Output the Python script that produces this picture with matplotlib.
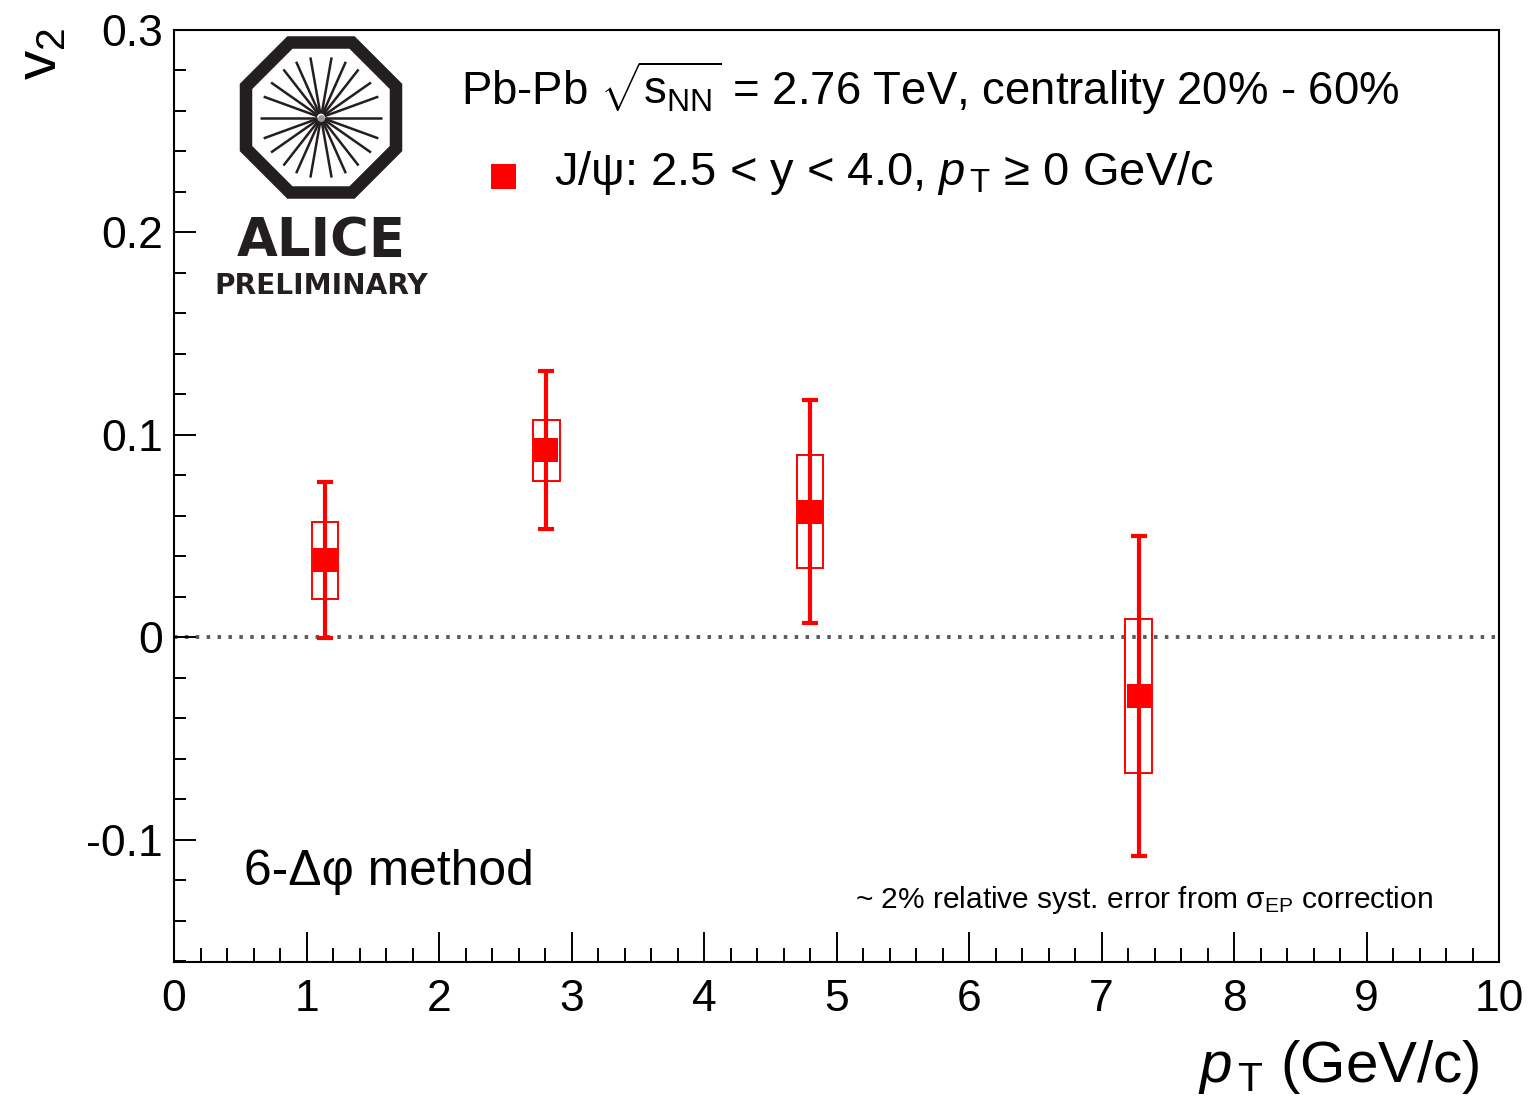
import numpy as np
import matplotlib
matplotlib.use("Agg")
import matplotlib.pyplot as plt
from matplotlib.patches import Rectangle, Polygon
from matplotlib.ticker import MultipleLocator

# ---- data ----
pt = [1.14, 2.81, 4.80, 7.28]
v2 = [0.038, 0.0924, 0.062, -0.0291]
stat_err = [0.0385, 0.039, 0.055, 0.079]
syst_err = [0.019, 0.015, 0.028, 0.038]
syst_halfwidth = 0.1
x_ticks = [0, 1, 2, 3, 4, 5, 6, 7, 8, 9, 10]
x_ticklabels = ["0", "1", "2", "3", "4", "5", "6", "7", "8", "9", "10"]
y_ticks = [-0.1, 0.0, 0.1, 0.2, 0.3]
y_ticklabels = ["-0.1", "0", "0.1", "0.2", "0.3"]

plt.rcParams['font.family'] = ['Liberation Sans', 'DejaVu Sans']
plt.rcParams['mathtext.fontset'] = 'custom'
plt.rcParams['mathtext.rm'] = 'Liberation Sans'
plt.rcParams['mathtext.it'] = 'Liberation Sans:italic'
plt.rcParams['mathtext.bf'] = 'Liberation Sans:bold'

W, H = 1531, 1107
fig = plt.figure(figsize=(W / 100, H / 100), dpi=100)
L, R, T, B = 174, 1499, 30, 962
ax = fig.add_axes([L / W, 1 - B / H, (R - L) / W, (B - T) / H])
ax.set_xlim(0, 10)
ax.set_ylim(-0.1605, 0.3)

red = '#ff0000'
# zero line
ax.axhline(0, color='#5a5a5a', lw=2.8, ls=(0, (0.9, 1.9)), zorder=1)

# systematic boxes
for xi, yi, si in zip(pt, v2, syst_err):
    ax.add_patch(Rectangle((xi - syst_halfwidth, yi - si), 2 * syst_halfwidth, 2 * si,
                           fill=False, edgecolor=red, lw=1.4, zorder=3))

ax.errorbar(pt, v2, yerr=stat_err, fmt='none', ecolor=red,
            elinewidth=3, capsize=5.5, capthick=3, zorder=4)
ax.plot(pt, v2, 's', color=red, ms=17, mew=0, zorder=5)

ax.set_xticks(x_ticks)
ax.set_xticklabels(x_ticklabels)
ax.set_yticks(y_ticks)
ax.set_yticklabels(y_ticklabels)
ax.xaxis.set_minor_locator(MultipleLocator(0.2))
ax.yaxis.set_minor_locator(MultipleLocator(0.02))
ax.tick_params(axis='both', which='both', direction='in', top=False, right=False,
               labelsize=32, width=1.4, colors='black')
ax.tick_params(axis='x', which='major', length=21.5, pad=12)
ax.tick_params(axis='x', which='minor', length=10)
ax.tick_params(axis='y', which='major', length=16, pad=8)
ax.tick_params(axis='y', which='minor', length=8.6)
for s in ax.spines.values():
    s.set_linewidth(1.5)

# ---- overlay in pixel coordinates for annotations/logo ----
ov = fig.add_axes([0, 0, 1, 1], zorder=5)
ov.set_xlim(0, W)
ov.set_ylim(H, 0)
ov.axis('off')
ov.patch.set_alpha(0)

# ALICE logo
cx, cy = 321, 117.5
ap = 75
Rc = ap / np.cos(np.pi / 8)
ang = np.pi / 8 + np.arange(8) * np.pi / 4
ov.add_patch(Polygon(np.c_[cx + Rc * np.cos(ang), cy + Rc * np.sin(ang)], closed=True,
                     fill=False, edgecolor='#231f20', lw=9, joinstyle='miter'))
spoke_deg = [0, 20, 35, 52, 66, 80, 100, 114, 128, 145, 160, 180,
             200, 215, 232, 246, 260, 280, 294, 308, 325, 340]
for d in spoke_deg:
    a = np.deg2rad(d)
    ov.plot([cx + 4 * np.cos(a), cx + 61 * np.cos(a)],
            [cy + 4 * np.sin(a), cy + 61 * np.sin(a)], color='#231f20', lw=1.8,
            solid_capstyle='butt')
ov.plot([cx], [cy], 'o', color='#999999', ms=5, mew=0)
ov.text(321, 256, 'ALICE', fontsize=38, family='DejaVu Sans', fontweight='bold',
        color='#231f20', ha='center', va='baseline')
ov.text(321, 294, 'PRELIMINARY', fontsize=20.2, family='DejaVu Sans', fontweight='bold',
        color='#231f20', ha='center', va='baseline')

# text
ov.text(461, 105, r'Pb-Pb $\sqrt{\mathrm{s}_{\mathrm{NN}}}$ = 2.76 TeV, centrality 20% - 60%',
        fontsize=32.8, ha='left', va='baseline')
ov.plot([503], [176], marker='s', color=red, ms=18, mew=0)
ov.text(554, 185, r'J/ψ: 2.5 < y < 4.0, $p_{\,\mathrm{T}}$ ≥ 0 GeV/c',
        fontsize=33.9, ha='left', va='baseline')
ov.text(244, 885, '6-Δφ method', fontsize=35.8, ha='left', va='baseline')
ov.text(855, 908, r'~ 2% relative syst. error from σ$_{\mathrm{EP}}$ correction',
        fontsize=21.5, ha='left', va='baseline')
ov.text(1480, 1082, r'$p_{\,\mathrm{T}}$ (GeV/c)', fontsize=42, ha='right', va='baseline')
ov.text(41, 28, r'v$_{2}$', fontsize=42, rotation=90, ha='center', va='top')

fig.savefig('out.png', dpi=100)
